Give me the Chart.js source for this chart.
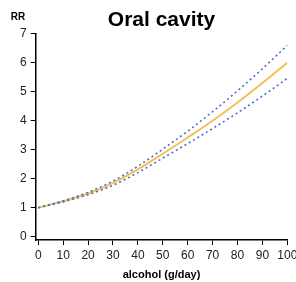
<!DOCTYPE html>
<html>
<head>
<meta charset="utf-8">
<style>
  html, body { margin: 0; padding: 0; background: #fff; }
  #wrap { width: 296px; height: 282px; }
</style>
<script src="https://cdn.jsdelivr.net/npm/chart.js@4.4.1/dist/chart.umd.min.js"></script>
</head>
<body>
<div id="wrap"><canvas id="rrChart" width="296" height="282"></canvas></div>
<script>
// values
const alcohol = [0, 10, 20, 30, 40, 50, 60, 70, 80, 90, 100];
const rr      = [1.00, 1.22, 1.49, 1.85, 2.32, 2.86, 3.42, 4.00, 4.63, 5.30, 6.00];
const rrUpper = [1.00, 1.24, 1.53, 1.92, 2.43, 3.02, 3.64, 4.31, 5.03, 5.79, 6.60];
const rrLower = [1.00, 1.20, 1.45, 1.77, 2.21, 2.71, 3.21, 3.73, 4.27, 4.85, 5.46];
const xTicks  = [0, 10, 20, 30, 40, 50, 60, 70, 80, 90, 100];
const yTicks  = [0, 1, 2, 3, 4, 5, 6, 7];

const FONT = "'Liberation Sans', Arial, sans-serif";

function pts(ys) {
	return alcohol.map((x, i) => ({ x: x, y: ys[i] }));
}

// "RR" label above the y axis
const rrLabel = {
	id: 'rrLabel',
	afterDraw(chart) {
		const ctx = chart.ctx;
		ctx.save();
		ctx.font = 'bold 10px ' + FONT;
		ctx.fillStyle = '#000';
		ctx.textAlign = 'center';
		ctx.textBaseline = 'middle';
		ctx.fillText('RR', 18, 17);
		ctx.restore();
	}
};

const lineBase = { pointRadius: 0, cubicInterpolationMode: 'monotone', fill: false };

new Chart(document.getElementById('rrChart'), {
	type: 'line',
	data: {
		datasets: [
			Object.assign({ label: 'upper', data: pts(rrUpper), borderColor: '#4a72c8', borderWidth: 1.6, borderDash: [2, 3] }, lineBase),
			Object.assign({ label: 'lower', data: pts(rrLower), borderColor: '#4a72c8', borderWidth: 1.6, borderDash: [2, 3] }, lineBase),
			Object.assign({ label: 'RR', data: pts(rr), borderColor: '#f6be55', borderWidth: 2 }, lineBase)
		]
	},
	options: {
		responsive: false,
		animation: false,
		layout: { padding: { left: 0, right: 8.7, top: 0, bottom: 0 } },
		plugins: {
			legend: { display: false },
			tooltip: { enabled: false },
			title: {
				display: true,
				fullSize: false,
				text: 'Oral cavity',
				color: '#000',
				font: { family: FONT, size: 21, weight: 'bold' },
				padding: { top: 8, bottom: 0.5 }
			}
		},
		scales: {
			x: {
				type: 'linear',
				min: -1.04,
				max: 100,
				afterBuildTicks: s => { s.ticks = xTicks.map(v => ({ value: v })); },
				afterFit: s => { s.height = 42; s.paddingLeft = 0; s.paddingRight = 0; },
				ticks: { color: '#222', font: { family: FONT, size: 12 }, padding: 3, maxRotation: 0 },
				grid: { drawOnChartArea: false, drawTicks: true, tickLength: 5, color: '#000' },
				border: { display: true, color: '#000', width: 1.5 },
				title: {
					display: true,
					text: 'alcohol (g/day)',
					color: '#000',
					font: { family: FONT, size: 11, weight: 'bold' },
					padding: { top: 0, bottom: 0 }
				}
			},
			y: {
				type: 'linear',
				min: -0.114,
				max: 7,
				afterBuildTicks: s => { s.ticks = yTicks.map(v => ({ value: v })); },
				afterFit: s => { s.width = 35.7; },
				ticks: { color: '#222', font: { family: FONT, size: 12 }, padding: 4 },
				grid: { drawOnChartArea: false, drawTicks: true, tickLength: 5, color: '#000' },
				border: { display: true, color: '#000', width: 1.5 }
			}
		}
	},
	plugins: [rrLabel]
});
</script>
</body>
</html>
